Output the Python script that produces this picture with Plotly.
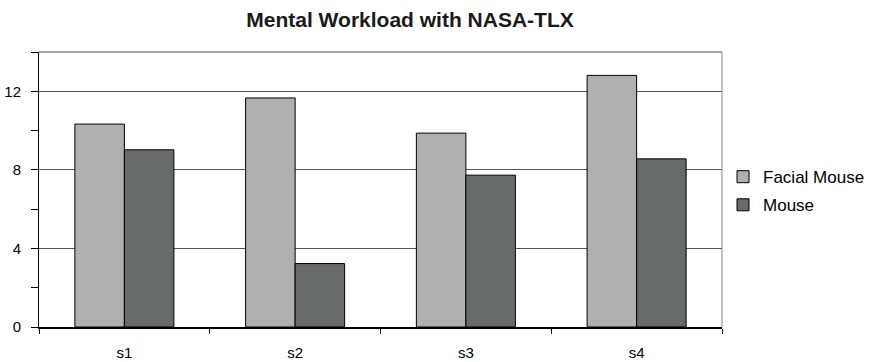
import plotly.graph_objects as go

categories = ["s1", "s2", "s3", "s4"]
facial_mouse = [10.33, 11.66, 9.87, 12.81]
mouse = [9.02, 3.23, 7.73, 8.56]
series_names = ["Facial Mouse", "Mouse"]

font = "Liberation Sans, Arial, sans-serif"

fig = go.Figure()
fig.add_trace(go.Bar(x=categories, y=facial_mouse, name=series_names[0], legendgroup="a",
                     marker=dict(color="#B0B0B0", line=dict(color="#000000", width=1))))
fig.add_trace(go.Bar(x=categories, y=mouse, name=series_names[1], legendgroup="b",
                     marker=dict(color="#676B6B", line=dict(color="#000000", width=1))))

fig.update_layout(
    width=880, height=362,
    margin=dict(l=39, r=158, t=52, b=35, autoexpand=False),
    paper_bgcolor="white", plot_bgcolor="white",
    barmode="group", bargap=0.42, bargroupgap=0,
    font=dict(family=font, size=15, color="#000000"),
    title=dict(text="<b>Mental Workload with NASA-TLX</b>", x=410 / 880, xref="container",
               xanchor="center", y=1 - 20 / 362, yanchor="middle", yref="container",
               font=dict(family=font, size=21, color="#1a1a1a")),
    legend=dict(x=1.0015, xanchor="left", y=0.494, yanchor="middle", tracegroupgap=3,
                font=dict(family=font, size=17, color="#000"), itemwidth=30),
    showlegend=True,
)
fig.update_xaxes(showline=True, linecolor="#000000", linewidth=1.5, ticks="outside",
                 tickson="boundaries", ticklen=5, tickcolor="#000000", automargin=False,
                 showgrid=False, tickfont=dict(size=15), ticklabelstandoff=11)
fig.update_yaxes(range=[0, 14], dtick=4, tick0=0, automargin=False,
                 showline=True, linecolor="#000000", linewidth=1, ticks="outside",
                 ticklen=7, tickcolor="#000000", showgrid=True, gridcolor="#555555",
                 gridwidth=1, zeroline=False, tickfont=dict(size=15), ticklabelstandoff=7,
                 minor=dict(dtick=2, tick0=0, ticks="outside", ticklen=7,
                            tickcolor="#000000", showgrid=False))
fig.add_shape(type="line", xref="paper", yref="paper", x0=0, x1=1, y0=1, y1=1,
              line=dict(color="#888888", width=1.5))
fig.add_shape(type="line", xref="paper", yref="paper", x0=1, x1=1, y0=0, y1=1,
              line=dict(color="#888888", width=1))

fig.write_html("out.html", config={"displayModeBar": False},
               post_script="document.body.style.margin='0';")
